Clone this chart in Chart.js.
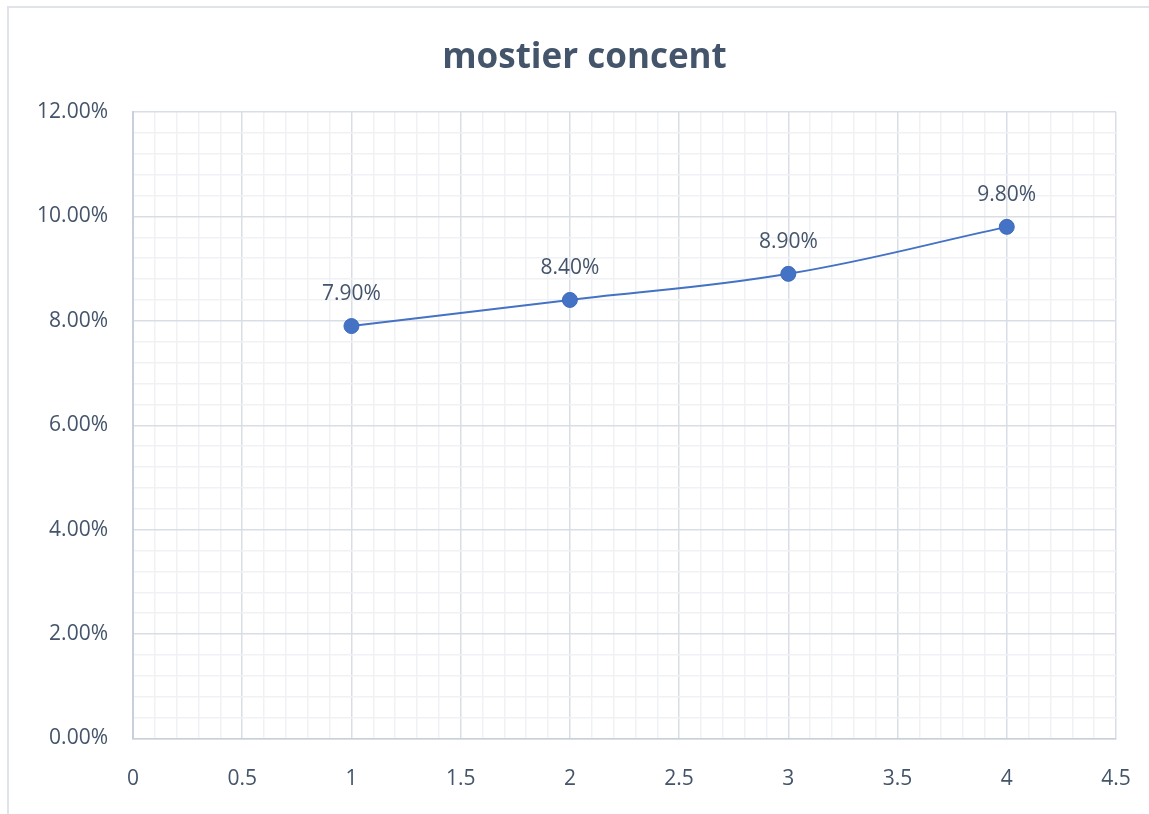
<!DOCTYPE html>
<html>
<head>
<meta charset="utf-8">
<script src="https://cdn.jsdelivr.net/npm/chart.js@4/dist/chart.umd.min.js"></script>
<style>
  html, body { margin: 0; padding: 0; background: #ffffff; }
  #wrap { position: relative; width: 1149px; height: 814px; overflow: hidden; }
  #frame { position: absolute; left: 7px; top: 6px; width: 1200px; height: 900px;
           border-left: 2px solid #e0e4ea; border-top: 2px solid #e0e4ea; pointer-events: none; }
  canvas { position: absolute; left: 0; top: 0; }
</style>
</head>
<body>
<div id="wrap">
  <div id="frame"></div>
  <canvas id="chart" width="1149" height="814"></canvas>
</div>
<script>
// Series: x position and percentage value (in %)
const xValues = [1, 2, 3, 4];
const yValues = [7.9, 8.4, 8.9, 9.8];

// Major tick positions on each axis
const xMajorTicks = [0, 0.5, 1, 1.5, 2, 2.5, 3, 3.5, 4, 4.5];
const yMajorTicks = [0, 2, 4, 6, 8, 10, 12];

// Minor gridline subdivisions per major interval
const xMinorDivisions = 5;
const yMinorDivisions = 5;

const TEXT = '#44546A';
const LINE = '#4472C4';
const MAJOR_GRID = '#d9dde5';
const MINOR_GRID = '#eff1f4';
const AXIS_LINE = '#c9d0dc';

function withMinor(majors, divisions) {
  const out = [];
  for (let i = 0; i < majors.length; i++) {
    out.push(majors[i]);
    if (i < majors.length - 1) {
      const step = (majors[i + 1] - majors[i]) / divisions;
      for (let k = 1; k < divisions; k++) {
        out.push(majors[i] + step * k);
      }
    }
  }
  return out;
}
function isMajorIn(list, v) {
  return list.some(m => Math.abs(m - v) < 1e-9);
}

const points = xValues.map((x, i) => ({ x: x, y: yValues[i] }));

// Value labels above each marker
const valueLabels = {
  id: 'valueLabels',
  afterDatasetsDraw(chart) {
    const ctx = chart.ctx;
    const meta = chart.getDatasetMeta(0);
    ctx.save();
    ctx.font = '21px "Open Sans"';
    ctx.fillStyle = TEXT;
    ctx.textAlign = 'center';
    ctx.textBaseline = 'middle';
    meta.data.forEach((el, i) => {
      ctx.fillText(yValues[i].toFixed(2) + '%', el.x, el.y - 32);
    });
    ctx.restore();
  }
};

new Chart(document.getElementById('chart'), {
  type: 'scatter',
  data: {
    datasets: [{
      data: points,
      showLine: true,
      borderColor: LINE,
      borderWidth: 2,
      tension: 0.4,
      pointRadius: 7.5,
      pointBackgroundColor: LINE,
      pointBorderColor: '#3f6bbb',
      pointBorderWidth: 1
    }]
  },
  options: {
    responsive: false,
    animation: false,
    devicePixelRatio: 1,
    layout: { padding: { left: 20, right: 0, top: 0, bottom: 0 } },
    plugins: {
      legend: { display: false },
      tooltip: { enabled: false },
      title: {
        display: true,
        text: 'mostier concent',
        color: TEXT,
        font: { family: '"Open Sans"', size: 35, weight: 'bold', lineHeight: 1.2 },
        padding: { top: 37, bottom: 33 }
      }
    },
    scales: {
      x: {
        type: 'linear',
        min: xMajorTicks[0],
        max: xMajorTicks[xMajorTicks.length - 1],
        afterBuildTicks(scale) {
          scale.ticks = withMinor(xMajorTicks, xMinorDivisions).map(v => ({ value: v }));
        },
        afterFit(scale) {
          scale.height = 75.5;
          scale.paddingLeft = 0;
          scale.paddingRight = 33;
        },
        grid: {
          drawTicks: false,
          lineWidth: 1.5,
          color: c => isMajorIn(xMajorTicks, c.tick.value) ? MAJOR_GRID : MINOR_GRID
        },
        border: { display: true, color: AXIS_LINE, width: 1.5 },
        ticks: {
          autoSkip: false,
          maxRotation: 0,
          padding: 28,
          color: TEXT,
          font: { family: '"Open Sans"', size: 21 },
          callback: v => isMajorIn(xMajorTicks, v) ? String(Math.round(v * 10) / 10) : ''
        }
      },
      y: {
        type: 'linear',
        min: yMajorTicks[0],
        max: yMajorTicks[yMajorTicks.length - 1],
        afterBuildTicks(scale) {
          scale.ticks = withMinor(yMajorTicks, yMinorDivisions).map(v => ({ value: v }));
        },
        afterFit(scale) { scale.width = 113; },
        grid: {
          drawTicks: false,
          lineWidth: 1.5,
          color: c => isMajorIn(yMajorTicks, c.tick.value) ? MAJOR_GRID : MINOR_GRID
        },
        border: { display: true, color: AXIS_LINE, width: 2 },
        ticks: {
          autoSkip: false,
          padding: 25,
          color: TEXT,
          font: { family: '"Open Sans"', size: 21 },
          callback: v => isMajorIn(yMajorTicks, v) ? v.toFixed(2) + '%' : ''
        }
      }
    }
  },
  plugins: [valueLabels]
});
</script>
</body>
</html>
